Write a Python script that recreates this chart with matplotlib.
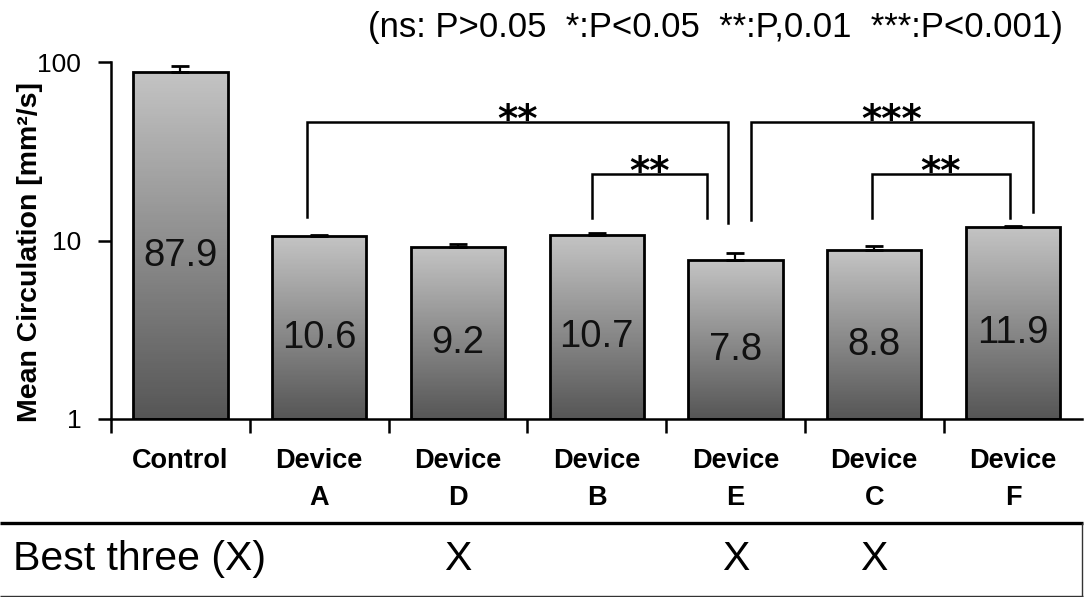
import numpy as np
import matplotlib
matplotlib.use("Agg")
import matplotlib.pyplot as plt
from matplotlib.lines import Line2D
from matplotlib.ticker import FixedLocator, NullLocator, FixedFormatter
from matplotlib import transforms

plt.rcParams['font.family'] = ['Liberation Sans', 'DejaVu Sans']

# ---------------- data ----------------
categories = ["Control", "Device\nA", "Device\nD", "Device\nB",
              "Device\nE", "Device\nC", "Device\nF"]
means = [87.9, 10.6, 9.2, 10.7, 7.8, 8.8, 11.9]
errors_up = [7.0, 0.2, 0.35, 0.35, 0.7, 0.55, 0.1]
value_labels = ["87.9", "10.6", "9.2", "10.7", "7.8", "8.8", "11.9"]
best_three = [False, False, True, False, True, True, False]
# (left index, right index, stars, bracket level, left leg end, right leg end)
comparisons = [
    (1, 4, "**", 46.0, 13.6, 12.5),
    (3, 4, "**", 23.6, 13.4, 13.4),
    (4, 6, "***", 46.0, 13.1, 14.5),
    (5, 6, "**", 23.6, 13.4, 13.4),
]
yticks = [1, 10, 100]
ytick_labels = ["1", "10", "100"]
stats_note = "(ns: P>0.05  *:P<0.05  **:P,0.01  ***:P<0.001)"
row_title = "Best three (X)"
y_label = "Mean Circulation [mm²/s]"

# ---------------- figure ----------------
W, H = 1084, 597
fig = plt.figure(figsize=(W / 100, H / 100), dpi=100)
ax = fig.add_axes([111 / W, 1 - 419 / H, (1082.4 - 111) / W, (419 - 62) / H])
ax.set_yscale('log')
ax.set_ylim(1, 100)
ax.set_xlim(-0.5, 6.5)

x = np.arange(len(means))
bw = 0.68
top_c, bot_c = 0.765, 0.335
n = 150
for i, h in enumerate(means):
    edges = np.logspace(0, np.log10(h), n + 1)
    t = np.linspace(0, 1, n)
    g = bot_c + (top_c - bot_c) * t
    cols = [(v, v, v) for v in g]
    ax.bar(np.full(n, x[i]), np.diff(edges), bottom=edges[:-1], width=bw,
           color=cols, linewidth=0, antialiased=False, zorder=2)
ax.bar(x, np.array(means) - 1, bottom=1, width=bw, fill=False,
       edgecolor='black', linewidth=2.0, zorder=3)
ax.errorbar(x, means, yerr=[np.zeros(len(means)), errors_up], fmt='none',
            ecolor='black', elinewidth=1.6, capsize=6.5, capthick=2.0, zorder=3)

# value labels inside bars (geometric middle of the bar)
for i, (h, s) in enumerate(zip(means, value_labels)):
    ax.annotate(s, (x[i], np.sqrt(h)), xytext=(0, -14.5), textcoords='offset points',
                ha='center', va='baseline', fontsize=27.5, color='#111111', zorder=4)

# significance brackets
bracket_dx = [(-0.09, -0.054), (-0.036, -0.205), (0.112, 0.142), (-0.016, -0.022)]
for (i0, i1, stars, lvl, b0, b1), (d0, d1) in zip(comparisons, bracket_dx):
    xl, xr = i0 + d0, i1 + d1
    ax.plot([xl, xl, xr, xr], [b0, lvl, lvl, b1], color='black', lw=1.8,
            solid_joinstyle='miter', zorder=4)
    ax.annotate(stars, ((xl + xr) / 2, lvl), xytext=(0, -7), textcoords='offset points',
                ha='center', va='baseline', fontsize=28, family='DejaVu Sans',
                fontweight='bold', zorder=5)

# axes styling
for s in ['top', 'right']:
    ax.spines[s].set_visible(False)
for s in ['left', 'bottom']:
    ax.spines[s].set_linewidth(1.8)
ax.yaxis.set_major_locator(FixedLocator(yticks))
ax.yaxis.set_major_formatter(FixedFormatter(ytick_labels))
ax.yaxis.set_minor_locator(NullLocator())
ax.tick_params(axis='y', which='major', length=9.5, width=1.8, pad=12, labelsize=19)

ax.set_xticks(np.arange(-0.5, 6.0, 1.0))
ax.set_xticklabels([])
ax.set_xticks(x, minor=True)
ax.set_xticklabels(categories, minor=True, fontweight='bold', fontsize=19.5,
                   linespacing=1.55)
ax.tick_params(axis='x', which='major', length=10, width=1.8, direction='out')
ax.tick_params(axis='x', which='minor', length=0, pad=21)

ax.set_ylabel(y_label, fontweight='bold', fontsize=20.5)
ax.yaxis.label.set_va('center')
ax.yaxis.set_label_coords((30 - 111) / (1082.4 - 111), (419 - 252) / (419 - 62))

# note at the top
fig.text(715 / W, 1 - 28 / H, stats_note, ha='center', va='center', fontsize=25)

# bottom row box
def fig_line(xs, ys, lw, color):
    fig.add_artist(Line2D([v / W for v in xs], [1 - v / H for v in ys], lw=lw,
                          color=color, transform=fig.transFigure,
                          solid_capstyle='butt'))

fig_line([0, 1083], [523, 523], 2.4, 'black')
fig_line([1082, 1082], [523, 595.5], 1.0, '#333333')
fig_line([0, 1083], [595.5, 595.5], 1.0, '#333333')

fig.text(13 / W, 1 - 559 / H, row_title, ha='left', va='center', fontsize=29.5)
row_tr = transforms.blended_transform_factory(ax.transData, fig.transFigure)
for i, b in enumerate(best_three):
    if b:
        fig.text(x[i], 1 - 559 / H, "X", transform=row_tr, ha='center', va='center',
                 fontsize=29.5)

fig.savefig("out.png", dpi=100)
